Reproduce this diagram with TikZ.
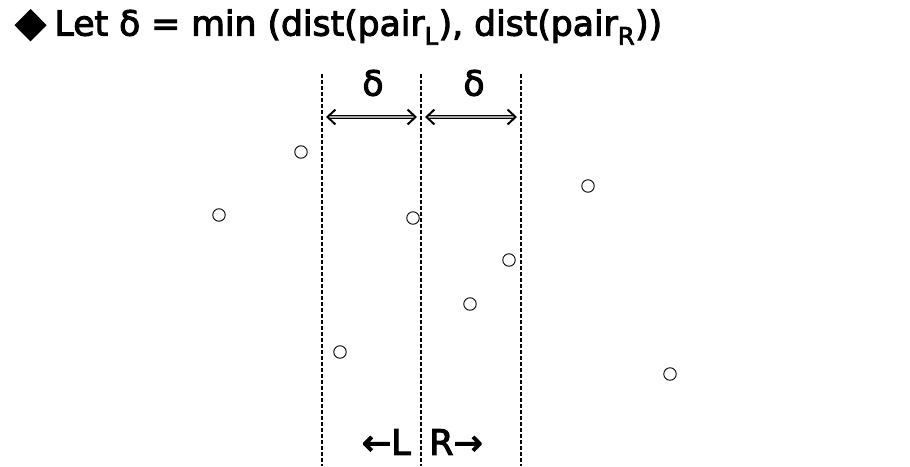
\documentclass[tikz,border=0pt]{standalone}
\usepackage{fontspec}
\setmainfont[FakeBold=3]{DejaVu Sans}
\usetikzlibrary{arrows.meta}
\begin{document}
\begin{tikzpicture}[x=1pt,y=-1pt,
  divider/.style={dash pattern=on 4pt off 2pt, line width=1.2pt},
  pt/.style={circle, draw, line width=0.9pt, minimum size=12.5pt, inner sep=0pt},
  deltaarrow/.style={double=gray!70, double distance=1.8pt, line width=1.1pt, {Straight Barb[length=8pt,width=15pt,line width=2pt]}-{Straight Barb[length=8pt,width=15pt,line width=2pt]}},
  lbl/.style={inner sep=0pt, font=\fontsize{34.6}{38}\selectfont},
  side/.style={inner sep=0pt, font=\fontsize{35}{40}\selectfont}]
\useasboundingbox (0,0) rectangle (910,466);
\node[lbl, anchor=west] (title) at (15,27) {{\fontsize{40}{40}\selectfont ◆}\hspace{0.25em}Let δ = min (dist(pair\textsubscript{L}), dist(pair\textsubscript{R}))};
\coordinate (d1t) at (322,74); \coordinate (d1b) at (322,466);
\coordinate (d2t) at (421,74); \coordinate (d2b) at (421,466);
\coordinate (d3t) at (521,74); \coordinate (d3b) at (521,466);
\draw[divider] (d1t) -- (d1b);
\draw[divider] (d2t) -- (d2b);
\draw[divider] (d3t) -- (d3b);
\coordinate (a1l) at (326,117); \coordinate (a1r) at (417,117);
\coordinate (a2l) at (425,117); \coordinate (a2r) at (517,117);
\draw[deltaarrow] (a1l) -- (a1r);
\draw[deltaarrow] (a2l) -- (a2r);
\node[lbl] (delta1) at (373,83) {δ};
\node[lbl] (delta2) at (474,83) {δ};
\node[pt] (p1) at (301,152) {};
\node[pt] (p2) at (219,215) {};
\node[pt] (p3) at (413,218) {};
\node[pt] (p4) at (588,186) {};
\node[pt] (p5) at (509,260) {};
\node[pt] (p6) at (470,304) {};
\node[pt] (p7) at (340,352) {};
\node[pt] (p8) at (670,374) {};
\node[side, anchor=east] (left) at (411,442) {←L};
\node[side, anchor=west] (right) at (429,442) {R→};
\end{tikzpicture}
\end{document}
